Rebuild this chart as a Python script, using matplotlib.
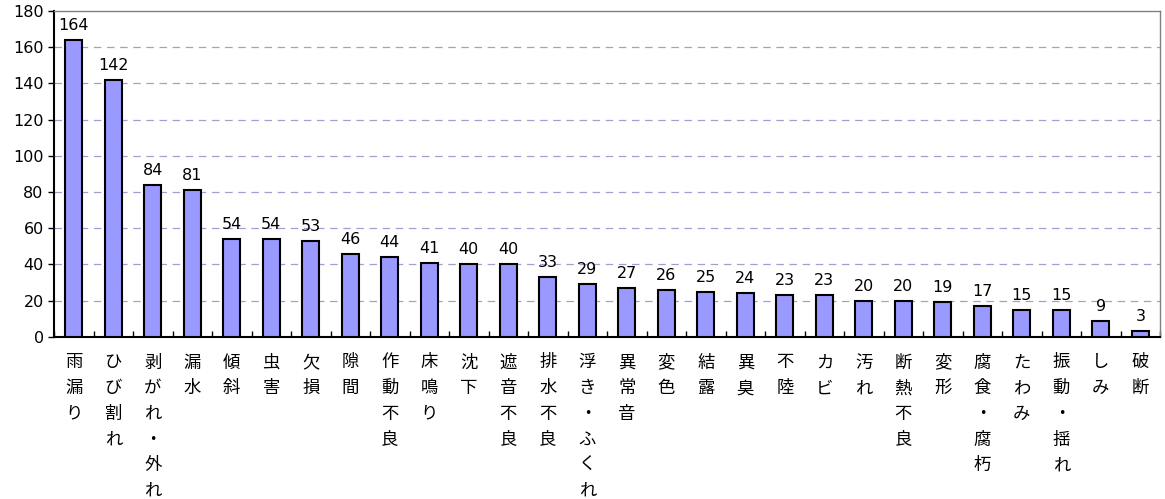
import matplotlib
matplotlib.use("Agg")
import matplotlib.pyplot as plt
import numpy as np

categories = ["雨漏り", "ひび割れ", "剥がれ・外れ", "漏水", "傾斜", "虫害", "欠損", "隙間",
              "作動不良", "床鳴り", "沈下", "遮音不良", "排水不良", "浮き・ふくれ", "異常音",
              "変色", "結露", "異臭", "不陸", "カビ", "汚れ", "断熱不良", "変形",
              "腐食・腐朽", "たわみ", "振動・揺れ", "しみ", "破断"]
values = [164, 142, 84, 81, 54, 54, 53, 46, 44, 41, 40, 40, 33, 29, 27, 26, 25, 24,
          23, 23, 20, 20, 19, 17, 15, 15, 9, 3]
yticks = [0, 20, 40, 60, 80, 100, 120, 140, 160, 180]

plt.rcParams['font.family'] = ['Noto Sans CJK JP', 'DejaVu Sans']

fig = plt.figure(figsize=(11.65, 4.99), dpi=100)
ax = fig.add_axes([0.0464, 0.325, 0.9494, 0.653])

x = np.arange(len(categories))
ax.bar(x, values, width=0.43, color="#9999FF", edgecolor="black", linewidth=1.5, zorder=3)
for xi, v in zip(x, values):
    ax.annotate(str(v), (xi, v), xytext=(0, 5), textcoords="offset points",
                ha="center", va="bottom", fontsize=11.5, family="DejaVu Sans", zorder=4)

ax.set_xlim(-0.5, len(categories) - 0.5)
ax.set_ylim(0, 180)
ax.set_yticks(yticks)
ax.set_yticklabels([str(t) for t in yticks], fontsize=11.5, family="DejaVu Sans")
ax.tick_params(axis="y", direction="out", length=4, width=1)

ax.set_xticks(x)
ax.set_xticklabels(["\n".join(c) for c in categories], fontsize=12.5, linespacing=1.55, va="top")
ax.tick_params(axis="x", which="major", length=0, pad=12)
ax.set_xticks(np.arange(-0.5, len(categories)), minor=True)
ax.tick_params(axis="x", which="minor", direction="in", length=4, width=1)

for t in yticks[1:-1]:
    ax.axhline(t, color="#A0A0D0", linestyle=(0, (6, 4.5)), linewidth=0.9, zorder=1)

for s in ["left", "bottom"]:
    ax.spines[s].set_color("black")
    ax.spines[s].set_linewidth(1.5)
for s in ["top", "right"]:
    ax.spines[s].set_color("#808080")
    ax.spines[s].set_linewidth(1)

fig.savefig("out.png", dpi=100)
